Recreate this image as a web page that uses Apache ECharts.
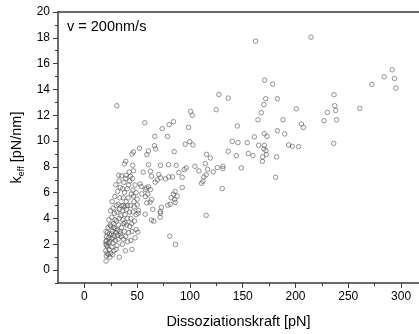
<!DOCTYPE html>
<html>
<head>
<meta charset="utf-8">
<script src="https://cdn.jsdelivr.net/npm/echarts@6/dist/echarts.min.js"></script>
<style>
  html, body { margin: 0; padding: 0; background: #fff; }
  #chart { width: 419px; height: 334px; }
</style>
</head>
<body>
<div id="chart"></div>
<script>
// Messwerte: [Dissoziationskraft pN, k_eff pN/nm]
const pointsHigh = [
  [162.2,17.74],[214.7,18.05],[291.6,15.52],[284,14.98],[293.8,14.85],[295,14.1],[272.3,14.39],
  [170.8,14.72],[178.4,14.41],[127.4,13.61],[136.3,13.33],[171.7,13.28],[182.8,13.28],[236.5,13.59],
  [100.6,12.3],[102.2,11.99],[124.9,12.43],[170.1,12.82],[167.6,12.2],[164.4,11.65],[200.8,12.5],
  [188.2,11.65],[237.2,12.74],[238.1,12.37],[230.2,12.22],[227,11.58],[238.8,11.65],[260.9,12.53],
  [98.7,11.06],[144.9,11.17],[205.6,11.32],[207.5,11.06],[182.8,10.8],[189.8,10.55],[170.5,10.57],
  [173,10.36],[161,10.32],[140.1,9.98],[145.5,9.88],[154.3,9.88],[95.5,9.75],[99.9,9.95],[102.8,9.7],
  [165.1,9.67],[170.5,9.67],[193.5,9.7],[197,9.59],[203,9.57],[236.2,9.82],[170.1,9.39],[172,9.26],
  [136.3,9.21],[155.3,9.03],[159.7,8.87],[143.9,8.87],[172.4,8.95],[168.9,8.77],[182.2,8.77],
  [168.6,8.43],[115.7,8.97],[119.3,8.69],[114.5,8.25],[104.7,8.04],[108.5,7.69],[116.7,7.81],
  [125.9,7.94],[131.2,8.04],[131.2,7.87],[122.1,7.61],[148.7,7.92],[115.4,7.38],[113.2,7.22],
  [112.3,6.88],[111,6.73],[130.6,6.32],[181.2,7.19],[115.4,4.25],[92.7,7.19],[92.7,6.4],[94.6,7.79],
  [96.5,7.92]
];
const pointsMid = [
  [30.7,12.74],[57.2,11.42],[84.4,11.5],[80.3,11.27],[73.7,10.96],[78.7,10.36],[66.7,10.36],
  [66.4,9.64],[67.6,9.39],[60.7,9.23],[59.1,8.95],[52.2,9.44],[46.5,9.16],[45.2,9.0],[85.1,9.18],
  [39.2,8.43],[37.9,8.23],[45.8,8.12],[32.5,7.35],[39.5,7.35],[43.6,7.27],[60.7,8.17],[72.1,8.12],
  [79.7,8.17],[87,8.12],[89.5,7.56],[55.7,7.58],[62.6,7.66],[70.5,7.4],[63.6,7.27],[69,6.99],
  [72.1,7.15],[67.1,6.81],[76.9,7.07],[80,7.22],[83.5,7.22],[52.8,6.68],[53.8,6.47],[57.9,6.24],
  [58.5,6.37],[60.7,6.45],[62.6,6.24],[54.4,5.91],[57.9,5.7],[60.1,5.88],[63.6,5.47],[46.5,5.72],
  [50,5.06],[86,6.09],[84.4,5.88],[88,5.72],[82.2,5.6],[85.4,5.47],[79,5.03],[81.3,5.1],[86,5.24],
  [73,4.87],[71.8,4.54],[72.1,4.41],[64.8,4.72],[63.6,3.87],[65.7,3.79],[71.8,4.1],[57.6,4.33],
  [51.2,4.62],[50.9,4.41],[59.1,5.21],[62.3,5.26],[80.9,2.63],[86.3,1.99],[49,3.15],[50.6,2.94]
];
const pointsLow = [
  [20.5,0.7],[20.8,1.1],[20.2,1.5],[21.5,1.3],[22,1.8],[20.5,2.0],[21,2.3],[22.5,2.1],[20.8,2.6],
  [21.8,2.9],[23,2.5],[22.5,3.3],[20.5,3.0],[23.5,1.6],[24,2.2],[21,1.9],[22.8,1.2],[23.7,2.8],
  [24.5,3.5],[20.3,2.2],
  [25,1.3],[26,1.8],[25.5,2.4],[27,2.1],[26.5,3.0],[28,2.7],[25,3.4],[27.5,3.6],[29,3.2],[26,4.1],
  [28.5,4.4],[27,4.8],[29.5,2.3],[30,1.6],[28,1.5],[25.8,2.8],[29,3.9],[26.8,1.2],[30,2.9],[27.2,2.5],
  [31,1.9],[32,2.4],[33,1.0],[31.5,3.1],[34,2.8],[32.5,3.5],[35,3.3],[33,4.0],[31,4.5],[34.5,4.2],
  [32,5.1],[35.5,5.0],[33.5,5.6],[31.5,6.1],[34,6.4],[36,2.0],[35,2.6],[30.5,3.8],[33.5,3.0],[36,4.6],
  [37,2.4],[38,3.0],[39,2.6],[37.5,3.6],[40,3.5],[38.5,4.3],[41,4.0],[37,5.0],[39.5,5.3],[41.5,5.6],
  [38,6.0],[40.5,6.3],[37.5,6.8],[39,7.1],[42,2.9],[41,2.2],[36.5,3.9],[40,4.7],[42,6.6],[38.8,1.5],
  [43,3.4],[44,4.0],[45,3.0],[46,4.5],[43.5,5.0],[47,5.3],[44.5,5.9],[46,6.2],[48,6.6],[43,6.9],
  [45.5,7.1],[47.5,3.8],[49,4.3],[48,2.5],[44,2.3],[50,5.5],[49,6.0],[42.5,7.6],[46.5,7.7],[45,1.6],
  [23.2,3.9],[24.8,4.6],[26.2,5.3],[28.8,5.7],[30.2,5.0],[29.8,6.6],[32.8,6.9],[35.2,7.3],[36.8,5.6],
  [38.2,4.9],[40.8,5.0],[42.8,4.5],[44.8,3.6],[47.2,4.9],[36.2,6.3],[33.2,4.7],[27.8,3.3],[24.2,1.0],
  [31.8,2.7],[38.5,3.7]
];

// Achsen
const xMajor = [0, 50, 100, 150, 200, 250, 300];
const xMinor = [25, 75, 125, 175, 225, 275];
const yMajor = [0, 2, 4, 6, 8, 10, 12, 14, 16, 18, 20];
const yMinor = [-1, 1, 3, 5, 7, 9, 11, 13, 15, 17, 19];

const font = 'Liberation Sans, Arial, sans-serif';
const lineColor = '#3a3a3a';

const chart = echarts.init(document.getElementById('chart'));
const option = {
  animation: false,
  grid: { left: 58, top: 12, right: 0, bottom: 50 },
  xAxis: [
    {
      type: 'value', position: 'bottom', min: -25, max: 317,
      axisLine: { show: true, onZero: false, lineStyle: { color: lineColor, width: 1.5 } },
      axisTick: { show: true, customValues: xMajor, length: 5, lineStyle: { color: lineColor, width: 1 } },
      axisLabel: { customValues: xMajor, fontSize: 12, color: '#000', fontFamily: font, margin: 8 },
      splitLine: { show: false },
      name: 'Dissoziationskraft [pN]', nameLocation: 'middle', nameGap: 31,
      nameTextStyle: { fontSize: 14.5, color: '#000', fontFamily: font }
    },
    {
      type: 'value', position: 'bottom', min: -25, max: 317,
      axisLine: { show: false, onZero: false },
      axisTick: { show: true, customValues: xMinor, length: 3, lineStyle: { color: lineColor, width: 1 } },
      axisLabel: { show: false },
      splitLine: { show: false }
    },
    {
      type: 'value', position: 'top', min: -25, max: 317,
      axisLine: { show: true, onZero: false, lineStyle: { color: lineColor, width: 1.5 } },
      axisTick: { show: false },
      axisLabel: { show: false },
      splitLine: { show: false }
    }
  ],
  yAxis: [
    {
      type: 'value', position: 'left', min: -1, max: 20,
      axisLine: { show: true, onZero: false, lineStyle: { color: lineColor, width: 1.5 } },
      axisTick: { show: true, customValues: yMajor, length: 5, lineStyle: { color: lineColor, width: 1 } },
      axisLabel: { customValues: yMajor, fontSize: 12, color: '#000', fontFamily: font, margin: 8 },
      splitLine: { show: false },
      name: '{a|k}{b|eff}{a| [pN/nm]}', nameLocation: 'middle', nameGap: 32,
      nameTextStyle: {
        color: '#000', fontFamily: font,
        rich: {
          a: { fontSize: 14.5, fontFamily: font, color: '#000' },
          b: { fontSize: 9, fontFamily: font, color: '#000', padding: [8, 0, 0, 0] }
        }
      }
    },
    {
      type: 'value', position: 'left', min: -1, max: 20,
      axisLine: { show: false, onZero: false },
      axisTick: { show: true, customValues: yMinor, length: 3, lineStyle: { color: lineColor, width: 1 } },
      axisLabel: { show: false },
      splitLine: { show: false }
    }
  ],
  graphic: [
    {
      type: 'text', left: 67, top: 19,
      style: { text: 'v = 200nm/s', font: '14.5px ' + font, fill: '#000' }
    }
  ],
  series: [
    {
      type: 'scatter',
      data: pointsLow.concat(pointsMid, pointsHigh),
      symbol: 'circle', symbolSize: 4.5,
      itemStyle: { color: 'rgba(0,0,0,0)', borderColor: '#555', borderWidth: 0.8 }
    }
  ]
};
chart.setOption(option);
</script>
</body>
</html>
